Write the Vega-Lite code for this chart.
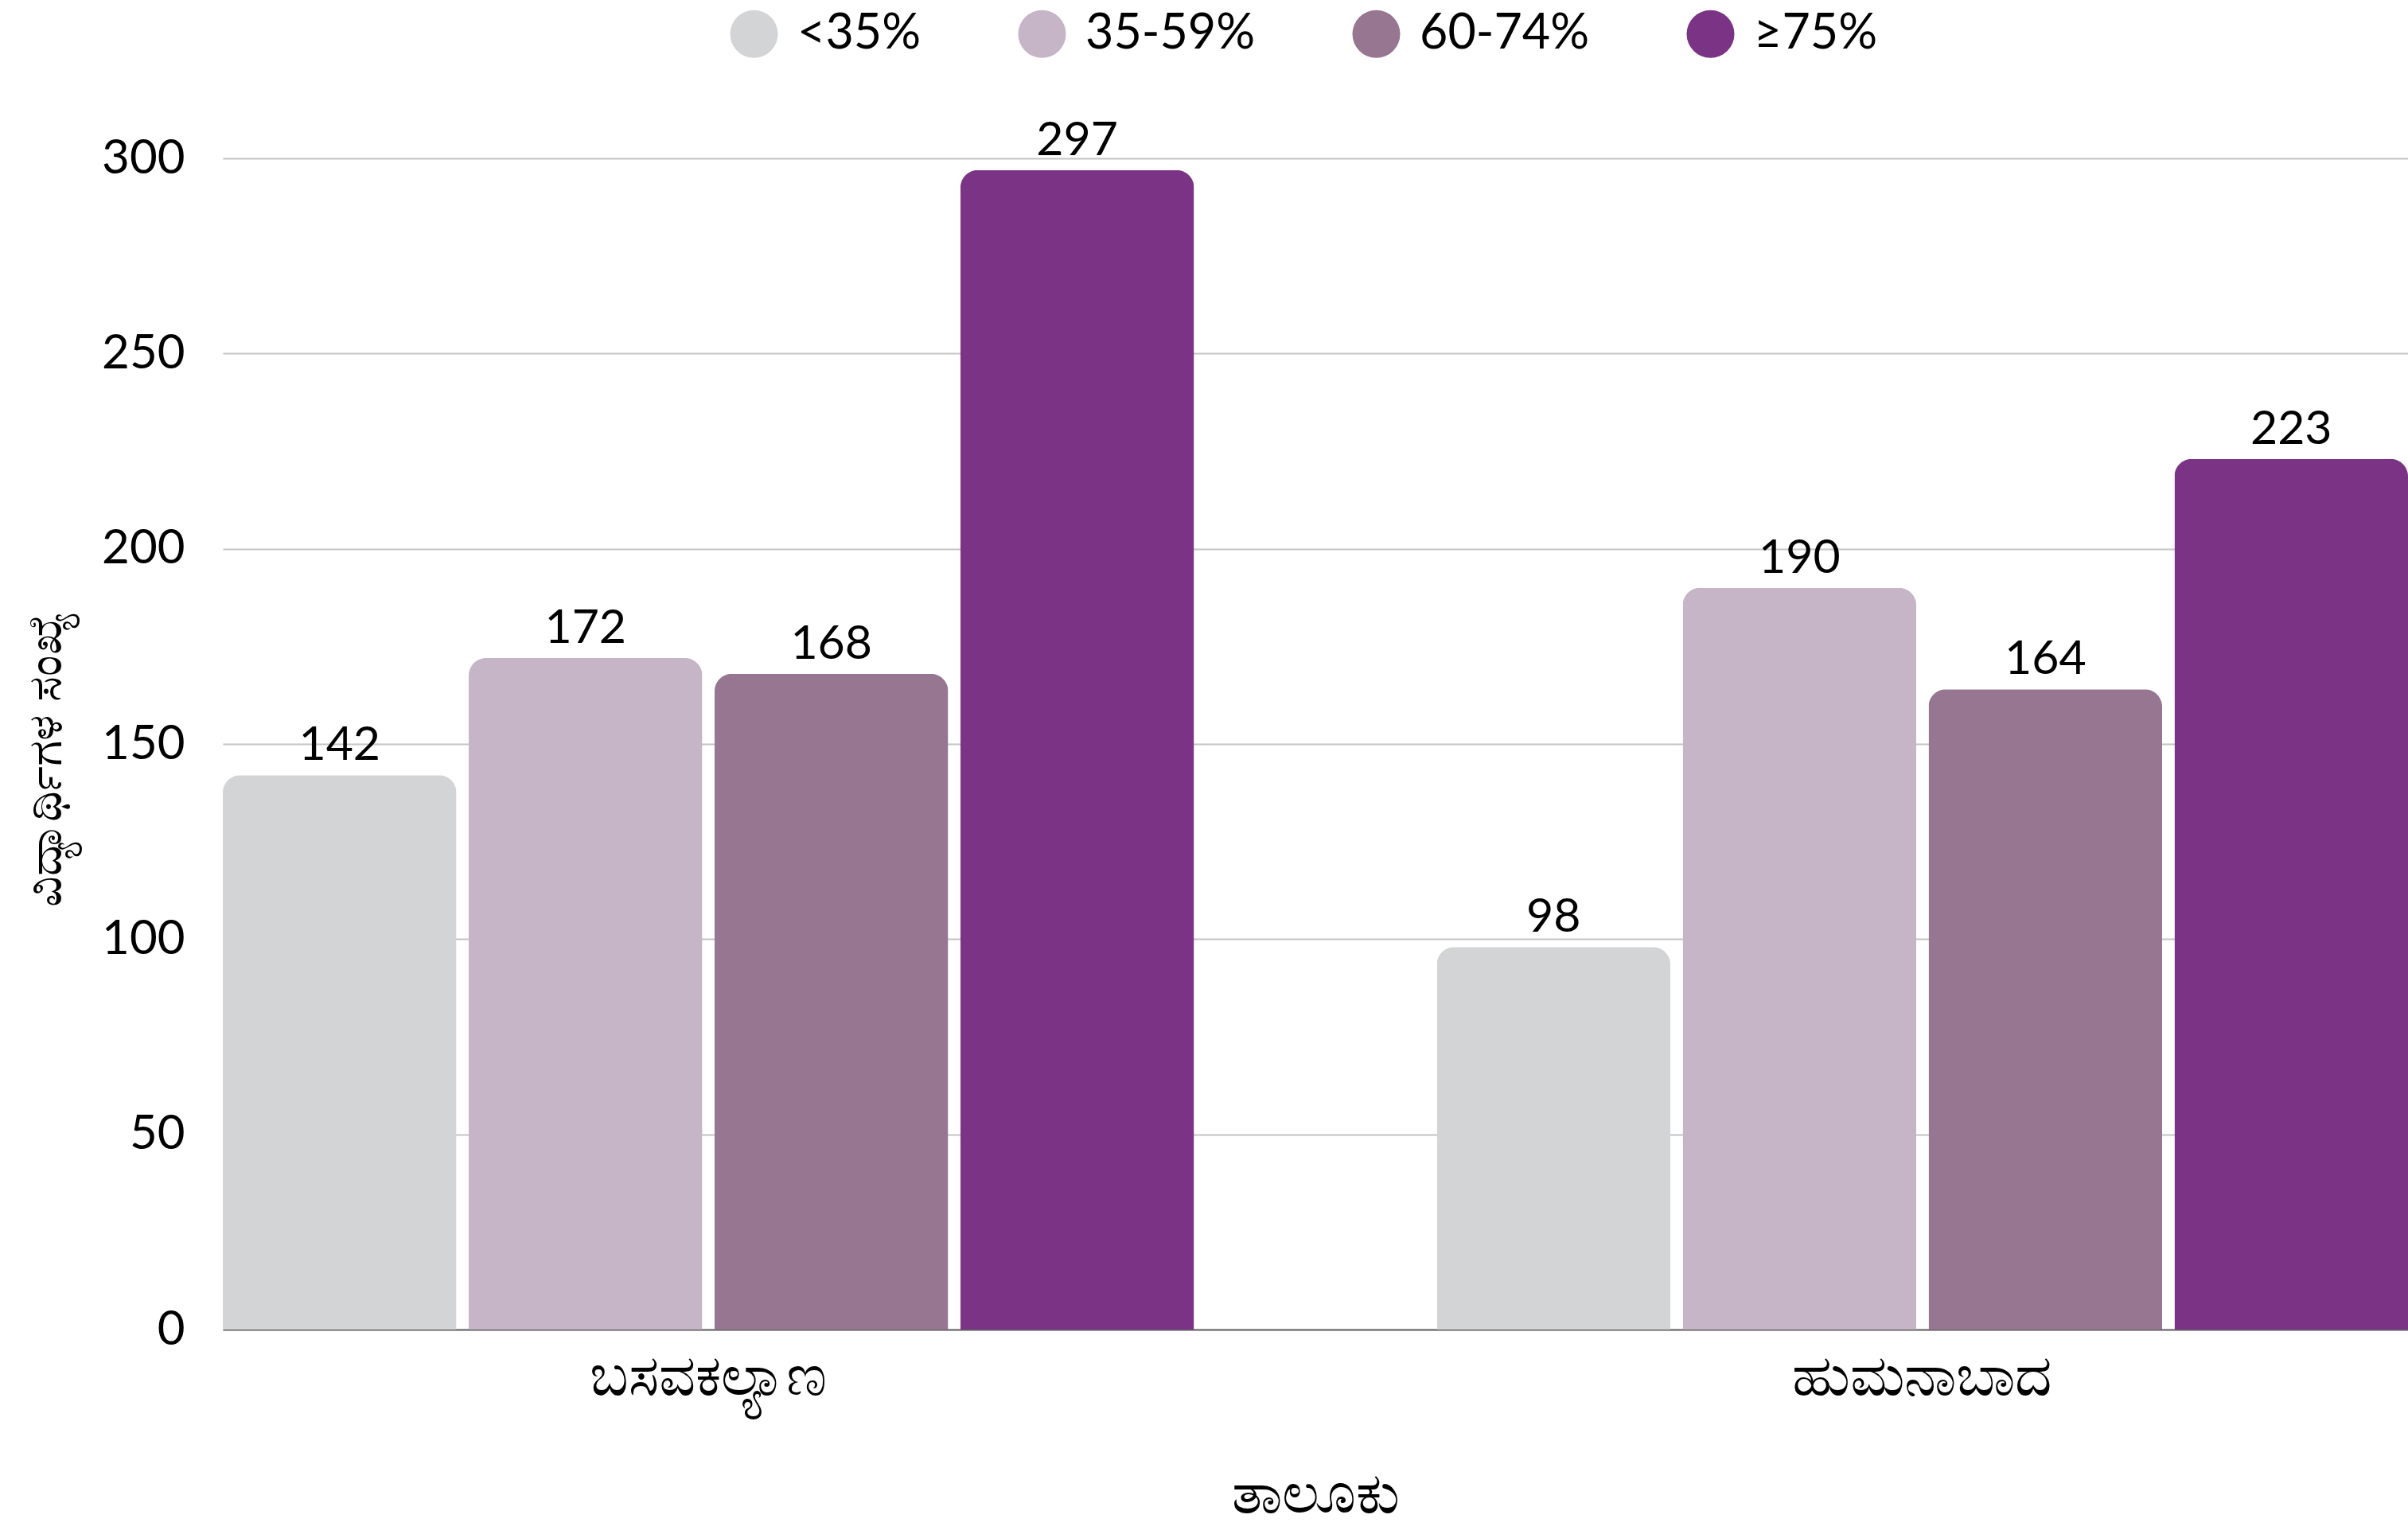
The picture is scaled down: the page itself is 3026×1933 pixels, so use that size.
{
  "$schema": "https://vega.github.io/schema/vega-lite/v6.json",
  "autosize": "none",
  "width": 2746,
  "height": 1472,
  "padding": {"left": 280, "top": 199, "right": 0, "bottom": 262},
  "background": "white",
  "config": {
    "font": "Lato",
    "view": {"stroke": null},
    "axis": {"labelFont": "Lato", "titleFont": "Lato", "labelColor": "#000000", "titleColor": "#000000", "titleFontWeight": "normal"},
    "legend": {"labelFont": "Lato", "labelColor": "#000000"}
  },
  "data": {
    "values": [
      {"taluk": "ಬಸವಕಲ್ಯಾಣ", "band": "<35%", "count": 142},
      {"taluk": "ಬಸವಕಲ್ಯಾಣ", "band": "35-59%", "count": 172},
      {"taluk": "ಬಸವಕಲ್ಯಾಣ", "band": "60-74%", "count": 168},
      {"taluk": "ಬಸವಕಲ್ಯಾಣ", "band": "≥75%", "count": 297},
      {"taluk": "ಹುಮನಾಬಾದ", "band": "<35%", "count": 98},
      {"taluk": "ಹುಮನಾಬಾದ", "band": "35-59%", "count": 190},
      {"taluk": "ಹುಮನಾಬಾದ", "band": "60-74%", "count": 164},
      {"taluk": "ಹುಮನಾಬಾದ", "band": "≥75%", "count": 223}
    ]
  },
  "encoding": {
    "x": {
      "field": "taluk", "type": "nominal", "sort": null,
      "scale": {"paddingInner": 0.2, "paddingOuter": 0},
      "axis": {
        "title": "ತಾಲೂಕು", "labelAngle": 0, "labelFontSize": 72, "labelPadding": 24, "labelLimit": 0,
        "ticks": false, "domain": true, "domainColor": "#666666", "domainWidth": 2,
        "titleFontSize": 72, "titleX": 1373, "titleY": 207, "titleBaseline": "middle", "titleAlign": "center"
      }
    },
    "xOffset": {
      "field": "band", "type": "nominal", "sort": ["<35%", "35-59%", "60-74%", "≥75%"],
      "scale": {"paddingInner": 0.05, "paddingOuter": 0}
    },
    "y": {
      "field": "count", "type": "quantitative",
      "scale": {"domain": [0, 300], "nice": false},
      "axis": {
        "title": "ವಿದ್ಯಾರ್ಥಿಗಳ ಸಂಖ್ಯೆ", "values": [0, 50, 100, 150, 200, 250, 300],
        "labelFontSize": 60, "labelPadding": 48, "ticks": false, "domain": false,
        "grid": true, "gridColor": "#C4C4C4", "gridWidth": 2,
        "titleFontSize": 60, "titleAngle": -90, "titleX": -222, "titleY": 755,
        "titleBaseline": "middle", "titleAlign": "center", "titleLimit": 0
      }
    }
  },
  "layer": [
    {
      "mark": {"type": "bar", "cornerRadiusTopLeft": 22, "cornerRadiusTopRight": 22},
      "encoding": {
        "color": {
          "field": "band", "type": "nominal",
          "sort": ["<35%", "35-59%", "60-74%", "≥75%"],
          "scale": {"domain": ["<35%", "35-59%", "60-74%", "≥75%"], "range": ["#D3D4D6", "#C5B5C6", "#967690", "#7B3385"]},
          "legend": {
            "title": null, "orient": "none", "direction": "horizontal",
            "legendX": 637, "legendY": -187,
            "symbolType": "circle", "symbolSize": 3600, "symbolStrokeWidth": 0,
            "labelFontSize": 61, "labelOffset": 24, "columnPadding": 121,
            "labelLimit": 0
          }
        }
      }
    },
    {
      "mark": {"type": "text", "fontSize": 59, "dy": -19, "baseline": "alphabetic", "color": "#000000"},
      "encoding": {
        "text": {"field": "count", "type": "quantitative"}
      }
    }
  ]
}
